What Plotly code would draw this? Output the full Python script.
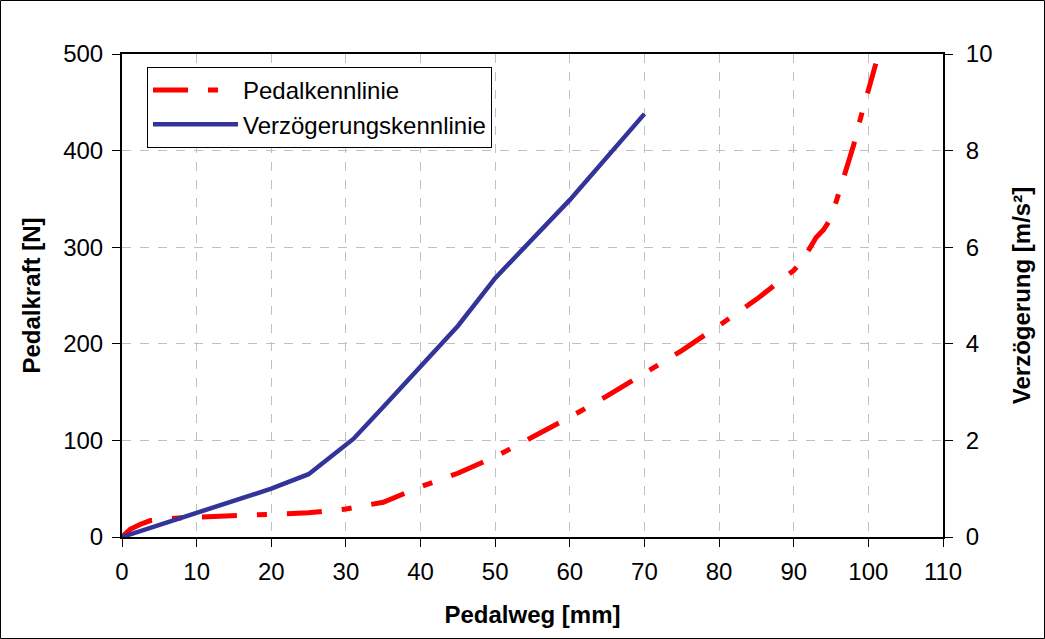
import plotly.graph_objects as go

# Pedal travel [mm] vs. pedal force [N]
pedal_travel = [0, 0.4, 1.1, 2.4, 3.8, 8, 12, 16, 20, 25, 30, 35, 40, 45, 50,
                55, 60, 65, 70, 75, 80, 85, 90, 91, 92, 93, 94, 95, 96, 97,
                98, 99, 100, 101]
pedal_force = [0, 3, 8, 13, 17, 20, 21, 21.5, 23, 25, 29, 36, 52, 66, 83,
               103, 124, 146, 169, 193, 219, 246, 276, 285, 297, 310, 318,
               330, 355, 378, 405, 435, 462, 490]

# Pedal travel [mm] vs. deceleration [m/s²]
decel_travel = [0, 10, 20, 25, 31, 35, 40, 45, 50, 60, 70]
deceleration = [0, 0.5, 1.0, 1.3, 2.03, 2.69, 3.54, 4.37, 5.36, 6.98, 8.76]

x_ticks = list(range(0, 111, 10))
force_ticks = list(range(0, 501, 100))
decel_ticks = list(range(0, 11, 2))

FONT = "Liberation Sans, Arial, sans-serif"
FS = 24
W, H = 1045, 639
L, R, T, B = 122, 102, 54, 102
PW, PH = W - L - R, H - T - B

fig = go.Figure()
fig.add_trace(go.Scatter(
    x=pedal_travel, y=pedal_force, mode="lines", name="Pedalkennlinie",
    line=dict(color="#FF0000", width=5, dash="35px,20px,10px,20px"),
    yaxis="y",
))
fig.add_trace(go.Scatter(
    x=decel_travel, y=deceleration, mode="lines", name="Verzögerungskennlinie",
    line=dict(color="#333399", width=4.5),
    yaxis="y2",
))

grid = dict(showgrid=True, gridcolor="#c0c0c0", griddash="dash", gridwidth=1)
fig.update_layout(
    width=W, height=H,
    margin=dict(l=L, r=R, t=T, b=B),
    paper_bgcolor="white", plot_bgcolor="white",
    font=dict(family=FONT, size=FS, color="black"),
    showlegend=True,
    legend=dict(
        x=25 / PW, y=1 - 13 / PH, xanchor="left", yanchor="top",
        bgcolor="white", bordercolor="black", borderwidth=1,
        font=dict(family=FONT, size=FS), itemwidth=85,
        tracegroupgap=0,
    ),
    xaxis=dict(
        range=[0, 110], tickvals=x_ticks, ticks="outside", ticklen=8,
        tickcolor="black", showline=True, linecolor="black", linewidth=2,
        mirror=True, zeroline=False, ticklabelstandoff=4,
        title=dict(text="<b>Pedalweg [mm]</b>", standoff=22,
                   font=dict(size=FS)),
        **grid,
    ),
    yaxis=dict(
        range=[0, 500], tickvals=force_ticks, ticks="outside", ticklen=8,
        tickcolor="black", showline=True, linecolor="black", linewidth=2,
        zeroline=False, ticklabelstandoff=4,
        title=dict(text="<b>Pedalkraft [N]</b>", standoff=16,
                   font=dict(size=FS)),
        **grid,
    ),
    yaxis2=dict(
        range=[0, 10], tickvals=decel_ticks, overlaying="y", side="right",
        ticks="outside", ticklen=8, tickcolor="black", showline=True,
        linecolor="black", linewidth=2, showgrid=False, zeroline=False,
        ticklabelstandoff=8,
        title=dict(text="<b>Verzögerung [m/s²]</b>", standoff=22,
                   font=dict(size=FS)),
    ),
    shapes=[dict(
        type="rect", xref="paper", yref="paper",
        x0=(0.5 - L) / PW, x1=(W - 0.5 - L) / PW,
        y0=-(B - 0.5) / PH, y1=1 + (T - 0.5) / PH,
        line=dict(color="black", width=1), fillcolor="rgba(0,0,0,0)",
        layer="below",
    )],
)

fig.write_html("out.html")
